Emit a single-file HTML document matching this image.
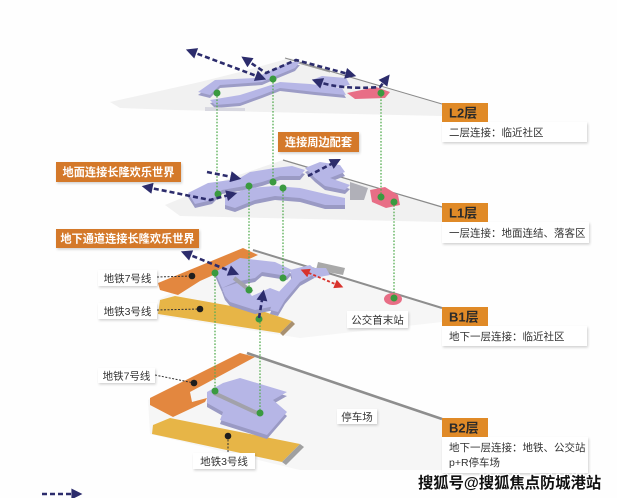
<!DOCTYPE html>
<html><head><meta charset="utf-8">
<style>
html,body{margin:0;padding:0;background:#fff;}
svg{display:block;}
text{font-family:"Liberation Sans","Noto Sans CJK SC",sans-serif;}
</style></head><body>
<svg width="617" height="498" viewBox="0 0 617 498" xmlns="http://www.w3.org/2000/svg">
<defs>
<marker id="a" viewBox="0 0 10 10" refX="6" refY="5" markerWidth="12" markerHeight="11" markerUnits="userSpaceOnUse" orient="auto-start-reverse"><path d="M0,0 L10,5 L0,10 z" fill="#2c2c6c"/></marker>
<marker id="r" viewBox="0 0 10 10" refX="6" refY="5" markerWidth="10" markerHeight="9" markerUnits="userSpaceOnUse" orient="auto-start-reverse"><path d="M0,0 L10,5 L0,10 z" fill="#d8322c"/></marker>
<filter id="sh" x="-10%" y="-30%" width="120%" height="160%"><feDropShadow dx="1" dy="1.5" stdDeviation="1.2" flood-color="#000" flood-opacity="0.18"/></filter>
</defs>
<rect width="617" height="498" fill="#fefefe"/>

<!-- ===== Slabs ===== -->
<polygon points="110,102 200,82 240,72 290,58 442,104 442,116 175,110 120,108" fill="#f1f1f1"/>
<polygon points="165,205 230,178 283,160 442,207 442,222 180,216" fill="#f1f1f1"/>
<polygon points="158,300 253,250 442,307 442,322 300,338 160,316" fill="#f6f6f6"/>
<polygon points="148,400 247,353 442,419 442,470 300,470 150,434" fill="#f6f6f6"/>

<!-- slab edges -->
<line x1="285" y1="58" x2="442" y2="104" stroke="#8a8a8a" stroke-width="1"/>
<line x1="295" y1="62" x2="330" y2="72" stroke="#9a9a9a" stroke-width="1"/>
<line x1="283" y1="160" x2="442" y2="207" stroke="#8a8a8a" stroke-width="1.2"/>
<line x1="253" y1="250" x2="442" y2="308" stroke="#8e8e8e" stroke-width="2"/>
<line x1="247" y1="353" x2="442" y2="419" stroke="#8e8e8e" stroke-width="2.6"/>
<polygon points="318,262 345,268 343,275 316,270" fill="#a9a9a9"/>

<!-- ===== L2 purple ===== -->
<g transform="translate(0,3)" fill="#9c9cc6">
<polygon points="198,92 215,80 255,78 272,70 290,62 300,62 295,68 278,75 262,82 220,85 210,95"/>
<polygon points="210,100 240,95 262,88 280,82 310,84 342,88 346,95 315,92 280,88 262,95 240,103 215,105"/>
</g>
<polygon points="198,92 215,80 255,78 272,70 290,62 300,62 295,68 278,75 262,82 220,85 210,95" fill="#b6b6e6"/>
<polygon points="210,100 240,95 262,88 280,82 310,84 342,88 346,95 315,92 280,88 262,95 240,103 215,105" fill="#b6b6e6"/>
<polygon points="312,80 322,76 346,78 350,85 340,87 318,86" fill="#b6b6e6"/>
<polygon points="347,93 376,87 390,92 385,98 355,99" fill="#e86e86"/>
<polygon points="205,107 245,108 245,111 205,111" fill="#d8d8e0"/>

<!-- ===== L1 purple ===== -->
<g transform="translate(0,4)" fill="#9a9ac4">
<polygon points="188,193 208,183 238,179 250,172 275,168 292,166 305,170 300,176 280,176 262,182 245,186 222,190 212,200 195,204"/>
<polygon points="225,196 250,188 275,186 300,188 330,195 345,198 345,205 325,205 300,198 275,196 255,200 235,208 225,205"/>
<polygon points="305,168 320,162 340,165 345,172 330,178 350,185 345,190 325,186 315,178"/>
</g>
<polygon points="188,193 208,183 238,179 250,172 275,168 292,166 305,170 300,176 280,176 262,182 245,186 222,190 212,200 195,204" fill="#b6b6e6"/>
<polygon points="225,196 250,188 275,186 300,188 330,195 345,198 345,205 325,205 300,198 275,196 255,200 235,208 225,205" fill="#b6b6e6"/>
<polygon points="305,168 320,162 340,165 345,172 330,178 350,185 345,190 325,186 315,178" fill="#b6b6e6"/>
<polygon points="350,182 368,188 364,200 350,200" fill="#b0b0b8"/>
<polygon points="370,190 385,187 398,195 400,205 386,208 372,202" fill="#e86e86"/>

<!-- ===== B1 ===== -->
<polygon points="158,283 243,248 258,255 200,281 178,295 160,290" fill="#e3873f"/>
<polygon points="160,300 175,296 265,312 292,321 280,333 158,314" fill="#e7b547"/>
<polygon points="280,333 292,321 295,324 283,336" fill="#a89070"/>
<g transform="translate(0,4)" fill="#9a9ac4">
<polygon points="215,272 240,258 275,262 292,270 287,276 262,272 255,278 235,282 222,288"/>
<polygon points="222,288 240,282 252,296 270,288 283,293 280,305 255,310 230,302 225,296"/>
<polygon points="290,270 310,265 318,272 300,282 285,300 278,312 270,310 275,296 292,278"/>
</g>
<polygon points="215,272 240,258 275,262 292,270 287,276 262,272 255,278 235,282 222,288" fill="#b6b6e6"/>
<polygon points="222,288 240,282 252,296 270,288 283,293 280,305 255,310 230,302 225,296" fill="#b6b6e6"/>
<polygon points="290,270 310,265 318,272 300,282 285,300 278,312 270,310 275,296 292,278" fill="#b6b6e6"/>
<polygon points="308,268 326,268 330,275 314,278" fill="#b6b6e6"/>
<line x1="234" y1="278" x2="252" y2="292" stroke="#a2a2aa" stroke-width="4"/>
<ellipse cx="393" cy="299" rx="9" ry="6" fill="#e86e86"/>

<!-- ===== B2 ===== -->
<polygon points="150,398 240,353 255,357 190,392 192,402 207,398 205,402 173,417 150,405" fill="#e3873f"/>
<polygon points="153,425 170,418 300,444 282,462 152,434" fill="#e7b547"/>
<polygon points="282,462 300,444 304,447 286,465" fill="#a0a0a0"/>
<g transform="translate(0,4)" fill="#9a9ac4">
<polygon points="207,392 223,383 240,378 287,392 273,400 287,412 267,435 220,420 223,412 207,403"/>
</g>
<polygon points="207,392 223,383 240,378 287,392 273,400 287,412 267,435 220,420 223,412 207,403" fill="#b6b6e6"/>
<line x1="214" y1="393" x2="257" y2="413" stroke="#a2a2aa" stroke-width="4"/>

<!-- ===== Green dotted connectors ===== -->
<g stroke="#56ad52" stroke-width="1.3" stroke-dasharray="1.6 1.6" fill="none">
<line x1="217" y1="93" x2="217" y2="194"/>
<line x1="273" y1="79" x2="273" y2="182"/>
<line x1="381" y1="93" x2="381" y2="197"/>
<line x1="249" y1="186" x2="249" y2="290"/>
<line x1="283" y1="188" x2="283" y2="278"/>
<line x1="394" y1="202" x2="394" y2="298"/>
<line x1="215" y1="273" x2="215" y2="391"/>
<line x1="260" y1="319" x2="260" y2="413"/>
</g>
<g fill="#3a9a40">
<circle cx="217" cy="93" r="3.5"/><circle cx="273" cy="79" r="3.5"/><circle cx="381" cy="93" r="3.5"/>
<circle cx="218" cy="194" r="3.5"/><circle cx="249" cy="186" r="3.5"/><circle cx="273" cy="182" r="3.5"/>
<circle cx="283" cy="188" r="3.5"/><circle cx="381" cy="197" r="3.5"/><circle cx="394" cy="202" r="3.5"/>
<circle cx="215" cy="273" r="3.5"/><circle cx="249" cy="290" r="3.5"/><circle cx="283" cy="278" r="3.5"/>
<circle cx="394" cy="298" r="3.5"/><circle cx="259" cy="319" r="3.5"/>
<circle cx="215" cy="391" r="3.5"/><circle cx="260" cy="413" r="3.5"/>
</g>

<!-- ===== Navy dashed arrows ===== -->
<g stroke="#2c2c6c" stroke-width="2.6" stroke-dasharray="5 3" fill="none">
<path d="M190,51 L262,78" marker-start="url(#a)" marker-end="url(#a)"/>
<path d="M245,59 L266,73 L296,60 L352,75" marker-start="url(#a)" marker-end="url(#a)"/>
<path d="M316,81 Q340,90 380,87 L387,78" marker-start="url(#a)" marker-end="url(#a)"/>
<path d="M146,187 L210,200 L233,194" marker-start="url(#a)" marker-end="url(#a)"/>
<path d="M207,172 L237,178" marker-end="url(#a)"/>
<path d="M308,176 L337,161" marker-end="url(#a)"/>
<path d="M185,253 L235,273" marker-start="url(#a)" marker-end="url(#a)"/>
<path d="M259,318 L263,294" marker-end="url(#a)"/>
<path d="M42,494 L78,494" marker-end="url(#a)"/>
</g>
<path d="M304,271 L340,286" stroke="#d8322c" stroke-width="1.8" stroke-dasharray="3 2" fill="none" marker-start="url(#r)" marker-end="url(#r)"/>

<!-- ===== Callouts (orange) ===== -->
<g filter="url(#sh)">
<rect x="56" y="162" width="125" height="20" fill="#d4792c"/>
<rect x="56" y="229" width="143" height="19" fill="#d4792c"/>
<rect x="278" y="132" width="81" height="20" fill="#d4792c"/>
</g>
<g fill="#fff" font-size="11.2" font-weight="bold" text-anchor="middle">
<text x="118.5" y="176">地面连接长隆欢乐世界</text>
<text x="127.5" y="242.5">地下通道连接长隆欢乐世界</text>
<text x="318.5" y="146">连接周边配套</text>
</g>

<!-- ===== Level tags ===== -->
<g filter="url(#sh)">
<rect x="442" y="122" width="145" height="20" fill="#fff"/>
<rect x="442" y="222" width="147" height="21" fill="#fff"/>
<rect x="442" y="326" width="145" height="20" fill="#fff"/>
<rect x="442" y="437" width="146" height="36" fill="#fff"/>
</g>
<g fill="#e08a27">
<rect x="442" y="103" width="46" height="19"/>
<rect x="442" y="203" width="46" height="19"/>
<rect x="442" y="307" width="46" height="19"/>
<rect x="442" y="418" width="46" height="19"/>
</g>
<g fill="#2a2a2a" font-size="13" font-weight="bold">
<text x="449" y="117.5">L2层</text>
<text x="449" y="217.5">L1层</text>
<text x="449" y="321.5">B1层</text>
<text x="449" y="432.5">B2层</text>
</g>
<g fill="#333" font-size="10.5">
<text x="449" y="136">二层连接：临近社区</text>
<text x="449" y="236.5">一层连接：地面连结、落客区</text>
<text x="449" y="340">地下一层连接：临近社区</text>
<text x="449" y="451">地下一层连接：地铁、公交站</text>
<text x="449" y="466">p+R停车场</text>
</g>

<!-- ===== Small white labels ===== -->
<g filter="url(#sh)" fill="#fff">
<rect x="98" y="270" width="59" height="16"/>
<rect x="98" y="303" width="59" height="16"/>
<rect x="347" y="311" width="61" height="17"/>
<rect x="98" y="368" width="57" height="15"/>
<rect x="193" y="453" width="62" height="16"/>
<rect x="337" y="409" width="40" height="15"/>
</g>
<g stroke="#333" stroke-width="1" stroke-dasharray="2 1.5" fill="none">
<line x1="157" y1="277" x2="192" y2="276"/>
<line x1="157" y1="310" x2="200" y2="309"/>
<line x1="155" y1="375" x2="194" y2="383"/>
<line x1="228" y1="436" x2="228" y2="453"/>
</g>
<g fill="#1e1e1e">
<circle cx="192" cy="276" r="3.3"/><circle cx="200" cy="309" r="3.3"/>
<circle cx="194" cy="383" r="3.3"/><circle cx="228" cy="436" r="3.3"/>
</g>
<g fill="#333" font-size="10.5" text-anchor="middle">
<text x="127.5" y="282">地铁7号线</text>
<text x="127.5" y="315">地铁3号线</text>
<text x="377.5" y="323.5">公交首末站</text>
<text x="126.5" y="379.5">地铁7号线</text>
<text x="224" y="465">地铁3号线</text>
<text x="357" y="420.5">停车场</text>
</g>

<!-- ===== Watermark ===== -->
<text x="418" y="488" font-size="15.3" font-weight="bold" fill="#111" stroke="#fff" stroke-width="2.5" paint-order="stroke">搜狐号@搜狐焦点防城港站</text>
</svg>
</body></html>
